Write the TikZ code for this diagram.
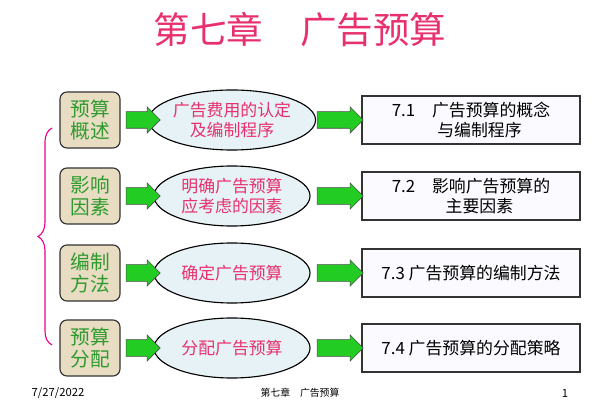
\documentclass[tikz,border=0pt]{standalone}
\usepackage{fontspec}
\setmainfont{Noto Sans CJK SC}
\usetikzlibrary{shapes.geometric,shapes.arrows,decorations.pathreplacing}
\definecolor{titlered}{HTML}{E8306E}
\definecolor{boxtan}{HTML}{E8DDC2}
\definecolor{leafgreen}{HTML}{2E9A2E}
\definecolor{ovalfill}{HTML}{E6F2F6}
\definecolor{arrowgreen}{HTML}{22CC22}
\tikzset{
  topic/.style={draw=black!80,thick,fill=boxtan,rounded corners=5pt,minimum width=1.5cm,minimum height=1.4cm,align=center,text=leafgreen,font=\fontsize{14}{16}\selectfont,inner sep=1pt},
  oval/.style={draw=black,thick,ellipse,fill=ovalfill,minimum width=3.9cm,minimum height=1.5cm,align=center,text=titlered,font=\fontsize{12}{14}\selectfont,inner sep=0pt},
  section/.style={draw=black!80,thick,fill=blue!2,minimum width=5.45cm,minimum height=1.2cm,align=center,font=\fontsize{12}{14}\selectfont},
  fat/.style={single arrow,draw=black!70,fill=arrowgreen,minimum height=#1,single arrow head extend=0.12cm,inner xsep=0pt,inner ysep=0.2cm,single arrow tip angle=90},
}
\begin{document}
\begin{tikzpicture}[x=0.025cm,y=-0.025cm]
  \useasboundingbox (0,0) rectangle (600,400);
  \node[text=titlered,font=\fontsize{26}{30}\selectfont] (title) at (300,30) {第七章\quad 广告预算};
  % rows
  \foreach \y/\t/\o/\s [count=\i] in {
    120/预算\\概述/广告费用的认定\\及编制程序/7.1\quad 广告预算的概念\\\quad 与编制程序,
    196/影响\\因素/明确广告预算\\应考虑的因素/7.2\quad 影响广告预算的\\\quad 主要因素,
    273/编制\\方法/确定广告预算/7.3 广告预算的编制方法,
    348/预算\\分配/分配广告预算/7.4 广告预算的分配策略}{
    \node[topic] (t\i) at (90,\y) {\t};
    \node[oval] (o\i) at (232,\y) {\o};
    \node[section] (s\i) at (471,\y) {\s};
    \node[fat=0.85cm] (a\i) at (139,\y) {};
    \node[fat=1.15cm] (b\i) at (336,\y) {};
  }
  \draw[magenta,thick,decorate,decoration={brace,amplitude=10pt}]
    (52,345) -- (52,128);
  % footer
  \node[font=\fontsize{8}{9}\selectfont] (date) at (58,393) {7/27/2022};
  \node[font=\fontsize{7}{9}\selectfont] (foot) at (300,393) {第七章\quad 广告预算};
  \node[font=\fontsize{8}{9}\selectfont] (page) at (565,393) {1};
\end{tikzpicture}
\end{document}
